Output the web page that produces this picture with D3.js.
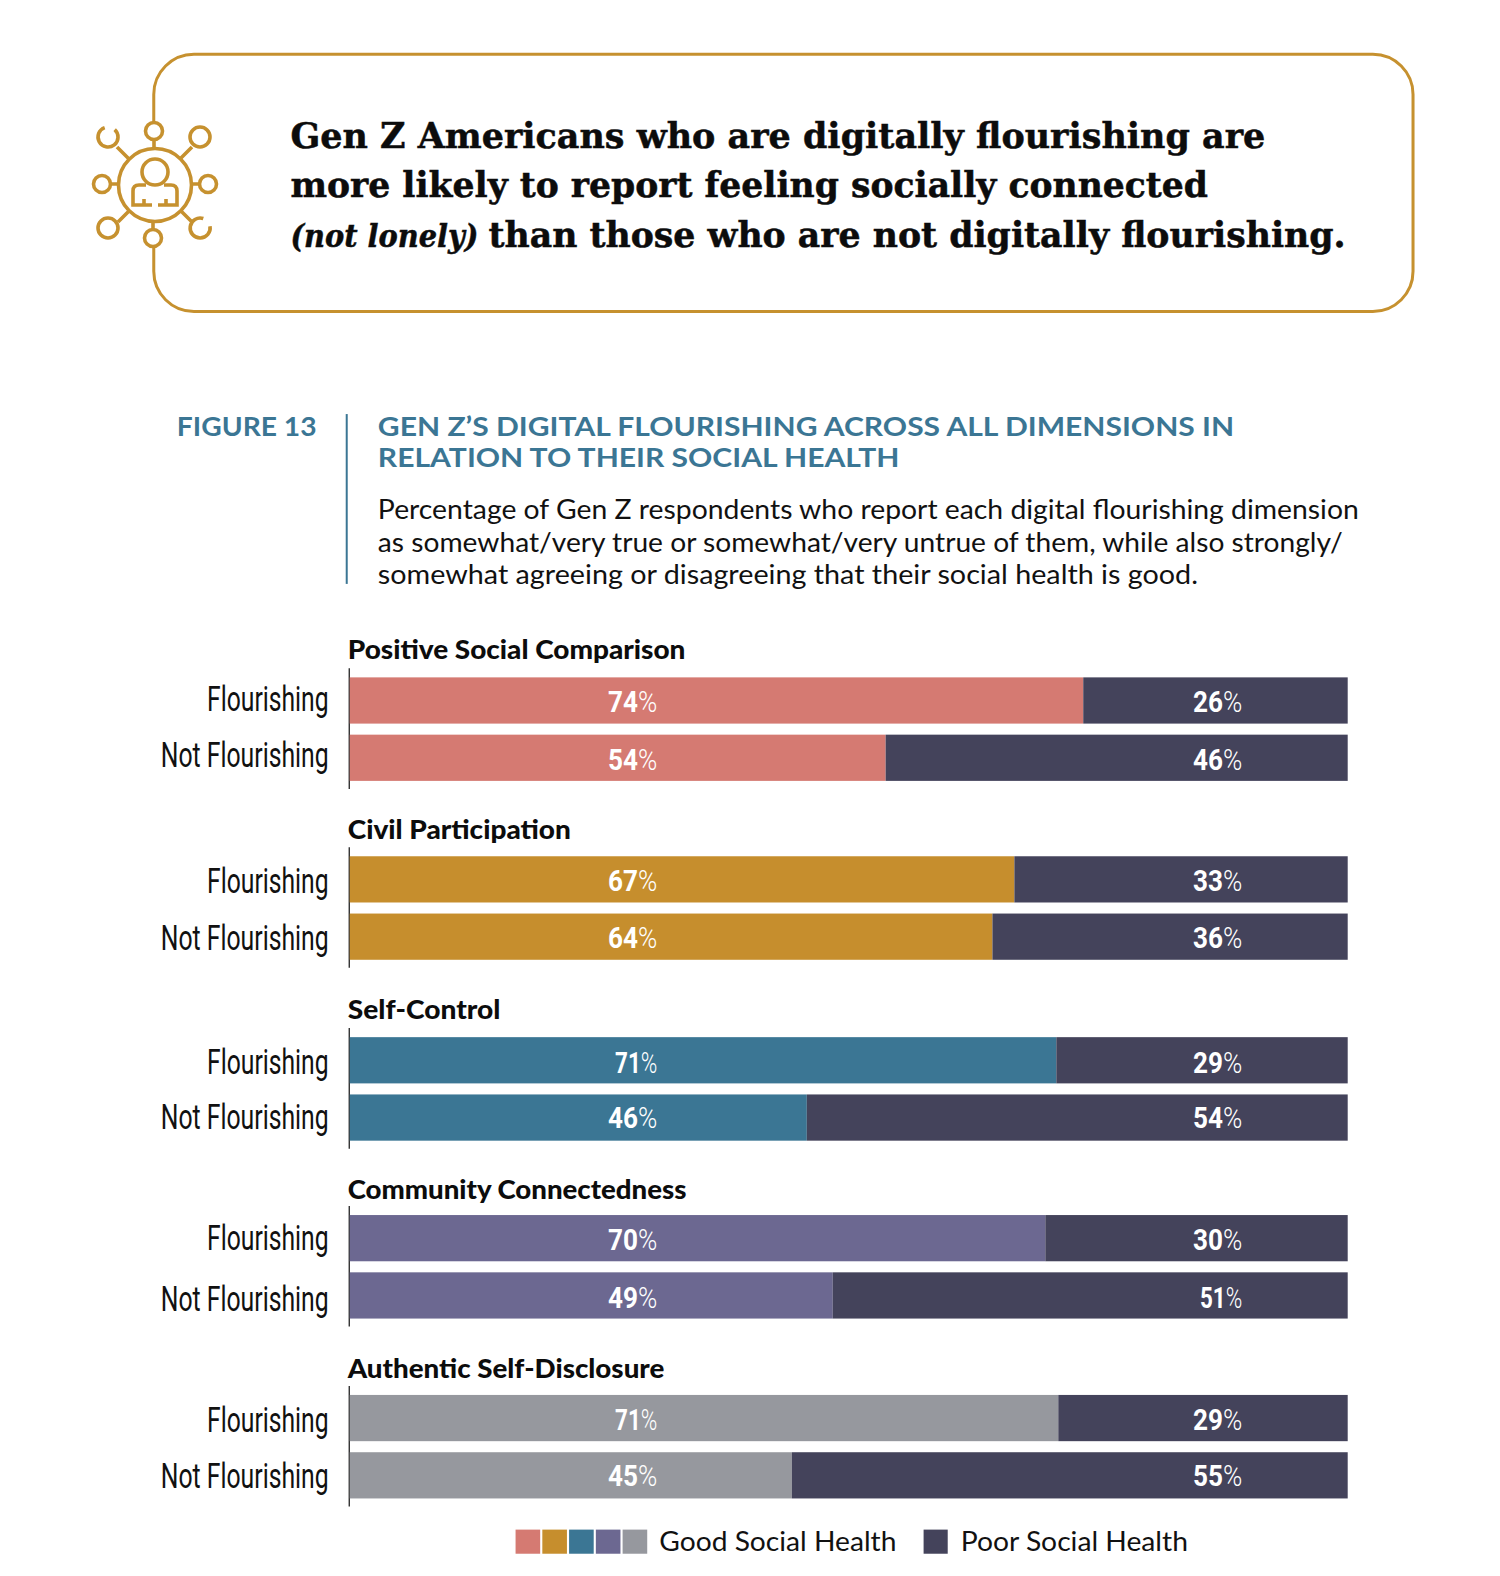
<!DOCTYPE html>
<html><head><meta charset="utf-8">
<script src="https://cdn.jsdelivr.net/npm/d3@7"></script>
<style>html,body{margin:0;padding:0;background:#fff}svg{display:block}text{font-kerning:normal}</style>
</head><body><div id="c"></div>
<script>
const categories = ["Positive Social Comparison","Civil Participation","Self-Control","Community Connectedness","Authentic Self-Disclosure"];
const rows = ["Flourishing","Not Flourishing"];
const flourishingGood = [73.5,66.6,70.8,69.7,71];
const notFlourishingGood = [53.7,64.4,45.8,48.4,44.3];
const flourishingLabels = [[74,26],[67,33],[71,29],[70,30],[71,29]];
const notFlourishingLabels = [[54,46],[64,36],[46,54],[49,51],[45,55]];
const goodColors = ["#d57a72","#c68e2d","#3b7694","#6c6891","#96989e"];
const poorColor = "#44435b";
const gold = "#c6912f", teal = "#3b7694";
const legendLabels = ["Good Social Health","Poor Social Health"];

const svg = d3.select("#c").append("svg").attr("width",1500).attr("height",1576);
const root = svg.append("g").attr("transform","scale(1.005)");
const LATO = "Lato, sans-serif";

function txt(p,s,x,y,size,w,o={}){
  const t=p.append("text").attr("x",x).attr("y",y).attr("font-size",size)
    .attr("font-family",o.f||LATO).attr("font-weight",o.w||400).attr("fill",o.c||"#111")
    .attr("font-style",o.st||null).attr("text-anchor",o.a||"start").text(s);
  if(w) t.attr("textLength",w).attr("lengthAdjust","spacingAndGlyphs");
  if(o.sw) t.attr("stroke",o.c||"#111").attr("stroke-width",o.sw);
  return t;
}

// Callout box with gap for the icon
root.append("path").attr("fill","none").attr("stroke",gold).attr("stroke-width",3)
  .attr("d","M153,122 V94 A40,40 0 0 1 193,54 H1366 A40,40 0 0 1 1406,94 V270 A40,40 0 0 1 1366,310 H193 A40,40 0 0 1 153,270 V245");

// Icon
const ic = svg.append("g").attr("fill","none").attr("stroke",gold).attr("stroke-width",3.6).attr("transform","translate(155,185)");
ic.append("circle").attr("r",36.5);
[[-1,-54,8.5],[-2,53,8.5],[-53,-1,8.5],[53,-1,8.5],[45,-48,10],[-47,43,10]].forEach(d=>ic.append("circle").attr("cx",d[0]).attr("cy",d[1]).attr("r",d[2]));
ic.append("path").attr("d","M-1,-45 V-37 M-2,37 V44 M-44,-1 H-37 M37,-1 H44 M37,-38 L26,-27 M-37,37 L-26,26 M-38,-38 L-26,-26 M37,37 L26,26");
ic.append("path").attr("d","M-40.3,-55.4 A10,10 0 1 1 -50.3,-57.4");
ic.append("path").attr("d","M55,41.3 A10,10 0 1 1 48.3,33.5");
ic.append("circle").attr("cy",-13).attr("r",13);
ic.append("path").attr("d","M-9,0 H-16 Q-22,0 -22,6 V20 H-3 M3,20 H22 V6 Q22,0 16,0 H9 M-11,20 V14 M11,20 V14");

// Headline
const F="'DejaVu Serif', serif";
const H={f:F,w:700,c:"#0c0c0c",sw:0.5};
txt(root,"Gen Z Americans who are digitally flourishing are",289,147,35,970,H);
txt(root,"more likely to report feeling socially connected",289,196,35,913,H);
txt(root,"(not lonely)",289,246,31,187,{...H,st:"italic"});
txt(root,"than those who are not digitally flourishing.",486,246,35,853,H);

// Figure header
txt(root,"FIGURE 13",176,434,27,139,{w:700,c:teal});
root.append("line").attr("x1",345).attr("x2",345).attr("y1",412).attr("y2",581).attr("stroke",teal).attr("stroke-width",2);
txt(root,"GEN Z’S DIGITAL FLOURISHING ACROSS ALL DIMENSIONS IN",376,434,27,852,{w:700,c:teal});
txt(root,"RELATION TO THEIR SOCIAL HEALTH",376,465,27,519,{w:700,c:teal});
txt(root,"Percentage of Gen Z respondents who report each digital flourishing dimension",376,516,27,976);
txt(root,"as somewhat/very true or somewhat/very untrue of them, while also strongly/",376,549,27,960);
txt(root,"somewhat agreeing or disagreeing that their social health is good.",376,581,27,816);

// Chart
const x = d3.scaleLinear().domain([0,100]).range([348,1341]);
const yGroup = d3.scaleOrdinal().domain(categories).range([674,852,1032,1209,1388]);
const yRow = d3.scaleBand().domain(rows).range([0,103]).paddingInner(11/57).paddingOuter(0);
const titleW = [336,222,152,337,315];
const titleOffset = [-18,-17,-18,-16,-17];
const rowW = {"Flourishing":121,"Not Flourishing":167};
const rowLabelShift = [[-1,-2],[3,2],[3,0],[1,4],[3,2]];
const valueShift = [[0,1],[1,0],[2,-1],[1,1],[1,0]];

categories.forEach((cat,i)=>{
  const g = root.append("g").attr("transform",`translate(0,${yGroup(cat)})`);
  txt(g,cat,346,titleOffset[i],27,titleW[i],{w:900,c:"#0c0c0c"});
  g.append("line").attr("x1",347.5).attr("x2",347.5).attr("y1",-9).attr("y2",111).attr("stroke","#111").attr("stroke-width",1.2);
  rows.forEach((r,j)=>{
    const v = j===0?flourishingGood[i]:notFlourishingGood[i];
    const lab = j===0?flourishingLabels[i]:notFlourishingLabels[i];
    const by = yRow(r), h = yRow.bandwidth();
    g.append("rect").attr("x",x(0)).attr("y",by).attr("width",x(v)-x(0)).attr("height",h).attr("fill",goodColors[i]);
    g.append("rect").attr("x",x(v)).attr("y",by).attr("width",x(100)-x(v)).attr("height",h).attr("fill",poorColor);
    txt(g,r,327,by+34+rowLabelShift[i][j],34,rowW[r],{f:"'Roboto', sans-serif",w:400,a:"end",c:"#111"});
    [[lab[0],654],[lab[1],1236]].forEach(([n,xe])=>{
      const t=g.append("text").attr("y",0).attr("text-anchor","start")
        .attr("font-family","'Roboto', sans-serif").attr("font-size",29).attr("fill","#fff");
      t.append("tspan").attr("font-weight",700).text(n);
      t.append("tspan").attr("font-weight",300).text("%");
      const target = (String(n).startsWith("71")||String(n).startsWith("51"))?42:49;
      const sx = target/t.node().getComputedTextLength();
      t.attr("transform",`translate(${xe-target},${by+34+valueShift[i][j]}) scale(${sx},1)`);
    });
  });
});

// Legend
const sw = d3.scaleBand().domain(goodColors).range([513,644]).paddingInner(0.08);
root.selectAll("rect.sw").data(goodColors).join("rect").attr("class","sw")
  .attr("x",d=>sw(d)).attr("y",1522).attr("width",sw.bandwidth()).attr("height",24).attr("fill",d=>d);
txt(root,legendLabels[0],656,1543,27,236,{c:"#111"});
root.append("rect").attr("x",919).attr("y",1522).attr("width",24).attr("height",24).attr("fill",poorColor);
txt(root,legendLabels[1],956,1543,27,226,{c:"#111"});
</script></body></html>
